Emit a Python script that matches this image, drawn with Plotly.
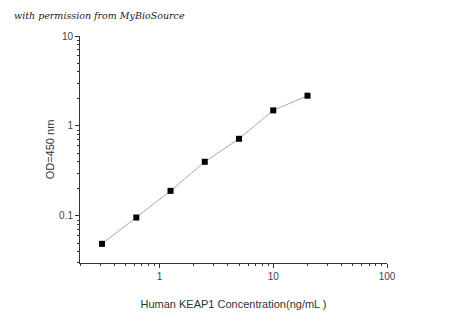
import plotly.graph_objects as go

conc = [0.3125, 0.625, 1.25, 2.5, 5, 10, 20]
od = [0.049, 0.096, 0.19, 0.40, 0.72, 1.49, 2.17]
x_ticks = [1, 10, 100]
y_ticks = [0.1, 1, 10]

fig = go.Figure()
fig.add_trace(go.Scatter(
    x=conc, y=od, mode="lines+markers",
    line=dict(color="#aaaaaa", width=1),
    marker=dict(symbol="square", size=6, color="black"),
    showlegend=False,
))

axis_common = dict(
    type="log", showgrid=False, zeroline=False, showline=True, automargin=False,
    linecolor="#333333", linewidth=1, ticks="outside", ticklen=4,
    tickcolor="#333333", tickfont=dict(family="Arial, Liberation Sans", size=10, color="#444444"),
    minor=dict(ticks="outside", ticklen=2, tickcolor="#333333", dtick="D1"),
)
fig.update_xaxes(range=[-0.699, 2], tickvals=x_ticks, ticktext=[str(v) for v in x_ticks],
                 title=dict(text="Human KEAP1 Concentration(ng/mL )", standoff=19,
                            font=dict(family="Arial, Liberation Sans", size=11, color="#333333")),
                 **axis_common)
fig.update_yaxes(range=[-1.523, 1], tickvals=y_ticks, ticktext=["0.1", "1", "10"],
                 title=dict(text="OD=450 nm", standoff=2,
                            font=dict(family="Arial, Liberation Sans", size=11, color="#333333")),
                 **axis_common)

fig.add_annotation(text="with permission from MyBioSource", xref="paper", yref="paper",
                   x=-0.222, y=1.09, xanchor="left", yanchor="middle", showarrow=False,
                   font=dict(family="DejaVu Serif", size=9.5, color="#222222", style="italic"))

fig.update_layout(width=450, height=314, margin=dict(l=80, r=63, t=36, b=51),
                  plot_bgcolor="white", paper_bgcolor="white")
fig.write_html("out.html")
